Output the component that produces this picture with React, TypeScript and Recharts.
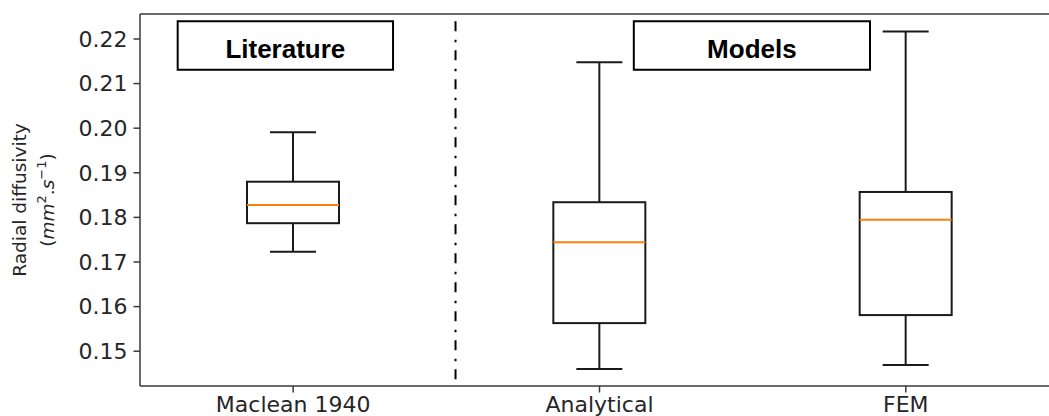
import React from 'react';
import { ComposedChart, Bar, XAxis, YAxis, ReferenceLine, ReferenceArea } from 'recharts';

const categories = ['Maclean 1940', 'Analytical', 'FEM'];
const positions = [1, 2, 3];
const whiskerLow = [0.1723, 0.146, 0.1469];
const quartile1 = [0.1787, 0.1563, 0.1581];
const medians = [0.1828, 0.1744, 0.1795];
const quartile3 = [0.188, 0.1834, 0.1857];
const whiskerHigh = [0.1991, 0.2148, 0.2217];

const yTicks = [0.15, 0.16, 0.17, 0.18, 0.19, 0.2, 0.21, 0.22];
const yDomain = [0.1422, 0.2256];
const xDomain = [0.5, 3.5];

// group divider and header boxes, in data units (x: 1..3 = the boxes)
const dividerX = 1.53;
const dividerY = [0.224, 0.1431];
const headers = [
  { label: 'Literature', x1: 0.623, x2: 1.326, y1: 0.2131, y2: 0.224 },
  { label: 'Models', x1: 2.112, x2: 2.883, y1: 0.2131, y2: 0.224 },
];

const data = categories.map((name, i) => ({
  name,
  pos: positions[i],
  range: [whiskerLow[i], whiskerHigh[i]],
  low: whiskerLow[i],
  q1: quartile1[i],
  median: medians[i],
  q3: quartile3[i],
  high: whiskerHigh[i],
}));

const textFont = 'DejaVu Sans';

const BoxShape = (props: any) => {
  const { x, y, width, height, payload } = props;
  const top = Math.min(y, y + height);
  const bot = Math.max(y, y + height);
  const { low, high, q1, q3, median } = payload;
  const py = (v: number) => bot - ((v - low) / (high - low)) * (bot - top);
  const cx = x + width / 2;
  const cap = width / 4;
  const line = { stroke: '#1a1a1a', strokeWidth: 2, fill: 'none' };
  return (
    <g>
      <line x1={cx} x2={cx} y1={py(high)} y2={py(q3)} {...line} />
      <line x1={cx} x2={cx} y1={py(q1)} y2={py(low)} {...line} />
      <line x1={cx - cap} x2={cx + cap} y1={py(high)} y2={py(high)} {...line} />
      <line x1={cx - cap} x2={cx + cap} y1={py(low)} y2={py(low)} {...line} />
      <rect x={x} y={py(q3)} width={width} height={py(q1) - py(q3)} {...line} />
      <line x1={x} x2={x + width} y1={py(median)} y2={py(median)} stroke="#ff7f0e" strokeWidth={2} />
    </g>
  );
};

const YLabel = () => (
  <g fill="#262626" fontFamily={textFont} fontSize={18.5}>
    <text x={26} y={200} textAnchor="middle" transform="rotate(-90, 26, 200)">
      Radial diffusivity
    </text>
    <text x={54} y={200} textAnchor="middle" transform="rotate(-90, 54, 200)">
      (<tspan fontStyle="italic">mm</tspan>
      <tspan fontSize={13} dy={-8}>2</tspan>
      <tspan dy={8}>.</tspan>
      <tspan fontStyle="italic">s</tspan>
      <tspan fontSize={13} dy={-8}>−1</tspan>
      <tspan dy={8}>)</tspan>
    </text>
  </g>
);

export default function App() {
  return (
    <div style={{ position: 'absolute', left: 0, top: 0, width: 1049, height: 416, overflow: 'hidden', background: '#fff' }}>
      <ComposedChart width={1070} height={416} data={data} margin={{ top: 14, right: 11, bottom: 0, left: 0 }}>
        <XAxis
          dataKey="pos"
          type="number"
          domain={xDomain}
          ticks={positions}
          allowDataOverflow
          tickFormatter={(v: number) => categories[v - 1]}
          height={30}
          axisLine={{ stroke: '#3a3a3a', strokeWidth: 1.5 }}
          tickLine={{ stroke: '#3a3a3a', strokeWidth: 1.5 }}
          tickSize={6.5}
          tickMargin={4}
          tick={{ fill: '#262626', fontSize: 22, fontFamily: textFont }}
          interval={0}
        />
        <YAxis
          type="number"
          domain={yDomain}
          ticks={yTicks}
          allowDataOverflow
          width={140}
          tickFormatter={(v: number) => v.toFixed(2)}
          axisLine={{ stroke: '#3a3a3a', strokeWidth: 1.5 }}
          tickLine={{ stroke: '#3a3a3a', strokeWidth: 1.5 }}
          tickSize={6.5}
          tickMargin={6}
          tick={{ fill: '#262626', fontSize: 22, fontFamily: textFont }}
          label={() => <YLabel />}
        />
        <ReferenceLine y={yDomain[1]} stroke="#3a3a3a" strokeWidth={1.5} ifOverflow="visible" />
        <ReferenceLine x={xDomain[1]} stroke="#3a3a3a" strokeWidth={1.5} ifOverflow="visible" />
        <ReferenceLine
          segment={[
            { x: dividerX, y: dividerY[0] },
            { x: dividerX, y: dividerY[1] },
          ]}
          stroke="#000"
          strokeWidth={2}
          strokeDasharray="10 8.5 2.5 8"
        />
        {headers.map((h) => (
          <ReferenceArea
            key={h.label}
            x1={h.x1}
            x2={h.x2}
            y1={h.y1}
            y2={h.y2}
            fill="#fff"
            fillOpacity={1}
            stroke="#000"
            strokeWidth={2}
            label={{
              value: h.label,
              position: 'center',
              fill: '#000',
              fontSize: 26,
              fontWeight: 'bold',
              fontFamily: 'Liberation Sans',
              dy: 3,
            }}
          />
        ))}
        <Bar dataKey="range" barSize={92} shape={<BoxShape />} isAnimationActive={false} />
      </ComposedChart>
    </div>
  );
}
